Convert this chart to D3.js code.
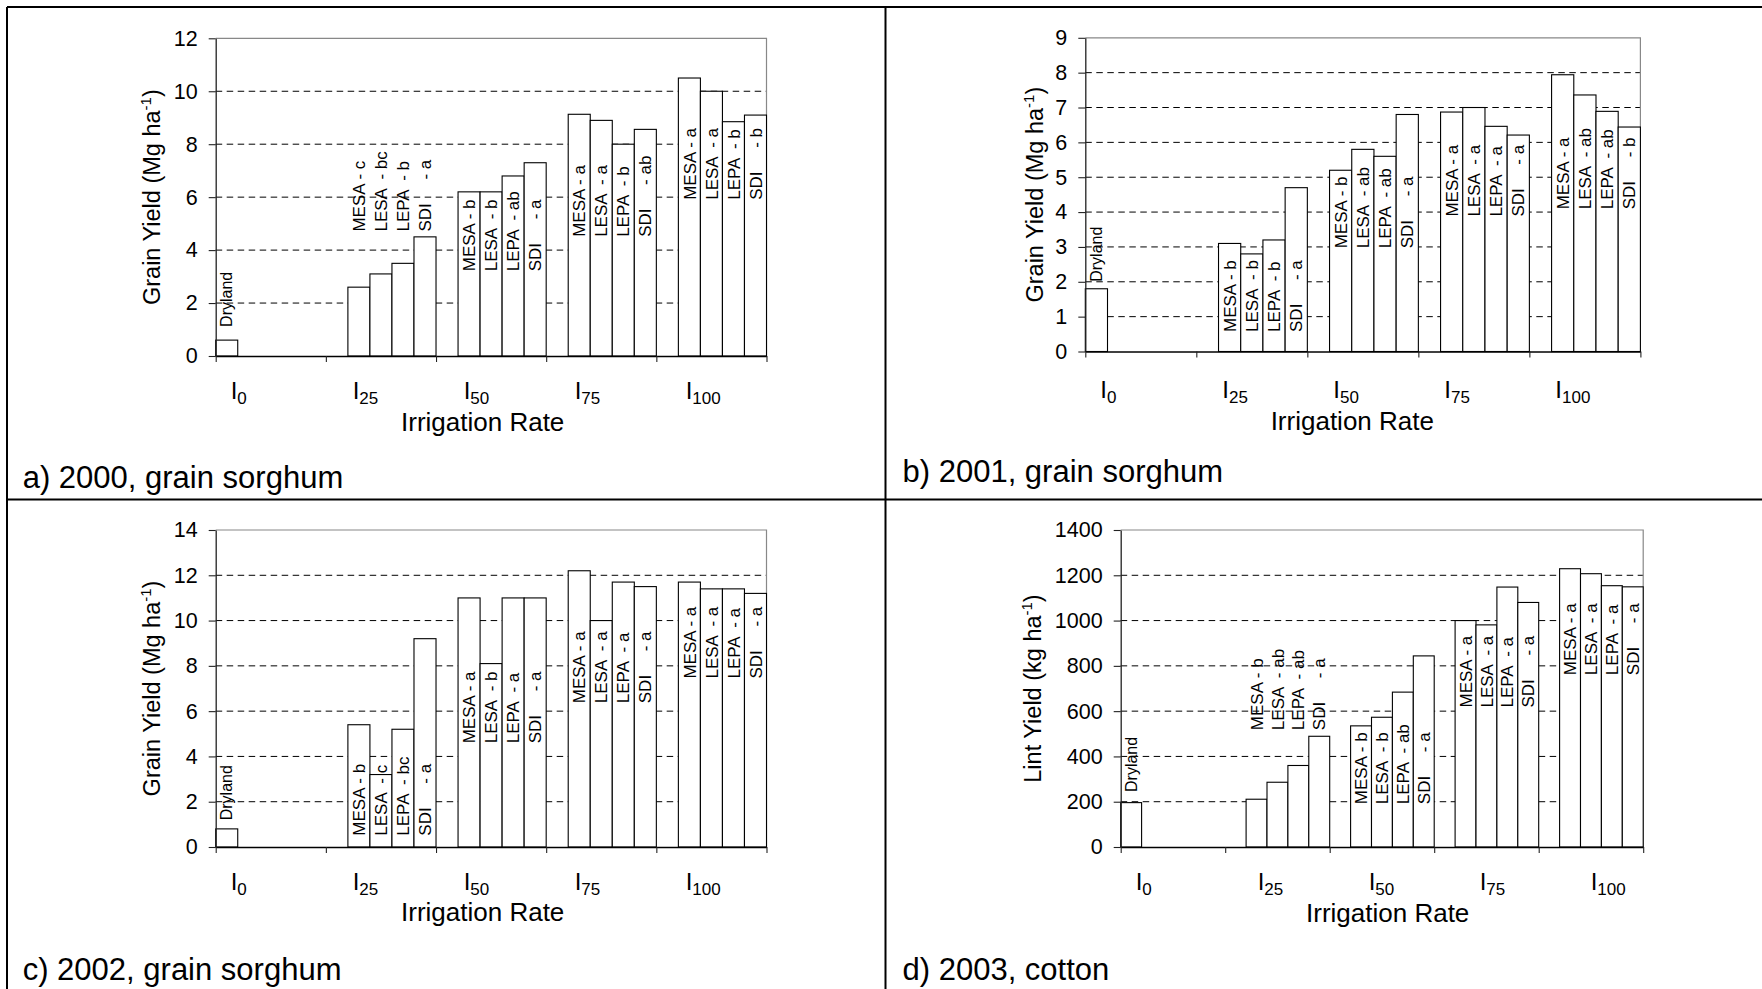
<!DOCTYPE html>
<html><head><meta charset="utf-8">
<script src="https://cdn.jsdelivr.net/npm/d3@7"></script>
<style>
html,body{margin:0;padding:0;background:#fff;}
svg{display:block;font-family:"Liberation Sans",Arial,sans-serif;}
</style></head><body>
<svg id="chart" width="1762" height="989"></svg>
<script>
// ---------- data ----------
const categories = ["I0", "I25", "I50", "I75", "I100"];
const categorySubs = ["0", "25", "50", "75", "100"];
const seriesNames = ["Dryland", "MESA", "LESA", "LEPA", "SDI"];

// a) 2000, grain sorghum (Mg/ha)
const a_Dryland = [0.6, null, null, null, null];
const a_MESA = [null, 2.6, 6.2, 9.13, 10.5];
const a_LESA = [null, 3.1, 6.2, 8.9, 10.0];
const a_LEPA = [null, 3.5, 6.8, 8.0, 8.85];
const a_SDI  = [null, 4.5, 7.3, 8.56, 9.1];
const a_sig = [["c", "bc", "b", "a"], ["b", "b", "ab", "a"], ["a", "a", "b", "ab"], ["a", "a", "b", "b"]];
const a_labelBase = [1.1, 4.7, 3.2, 4.5, 5.9];
const a_ticks = [0, 2, 4, 6, 8, 10, 12];

// b) 2001, grain sorghum (Mg/ha)
const b_Dryland = [1.8, null, null, null, null];
const b_MESA = [null, 3.1, 5.2, 6.87, 7.94];
const b_LESA = [null, 2.8, 5.8, 7.0, 7.36];
const b_LEPA = [null, 3.2, 5.6, 6.46, 6.89];
const b_SDI  = [null, 4.7, 6.8, 6.21, 6.44];
const b_sig = [["b", "b", "b", "a"], ["b", "ab", "ab", "a"], ["a", "a", "a", "a"], ["a", "ab", "ab", "b"]];
const b_labelBase = [2.0, 0.56, 2.96, 3.87, 4.08];
const b_ticks = [0, 1, 2, 3, 4, 5, 6, 7, 8, 9];

// c) 2002, grain sorghum (Mg/ha)
const c_Dryland = [0.8, null, null, null, null];
const c_MESA = [null, 5.4, 11.0, 12.2, 11.7];
const c_LESA = [null, 3.2, 8.1, 10.0, 11.4];
const c_LEPA = [null, 5.2, 11.0, 11.7, 11.4];
const c_SDI  = [null, 9.2, 11.0, 11.5, 11.2];
const c_sig = [["b", "c", "bc", "a"], ["a", "b", "a", "a"], ["a", "a", "a", "a"], ["a", "a", "a", "a"]];
const c_labelBase = [1.18, 0.5, 4.58, 6.35, 7.44];
const c_ticks = [0, 2, 4, 6, 8, 10, 12, 14];

// d) 2003, cotton (kg/ha)
const d_Dryland = [196, null, null, null, null];
const d_MESA = [null, 211, 535, 1000, 1229];
const d_LESA = [null, 286, 573, 981, 1207];
const d_LEPA = [null, 360, 684, 1148, 1154];
const d_SDI  = [null, 489, 844, 1080, 1149];
const d_sig = [["b", "ab", "ab", "a"], ["b", "b", "ab", "a"], ["a", "a", "a", "a"], ["a", "a", "a", "a"]];
const d_labelBase = [243, 516, 189, 616, 759];
const d_ticks = [0, 200, 400, 600, 800, 1000, 1200, 1400];

const labelPrefix = {MESA: "MESA - ", LESA: "LESA  - ", LEPA: "LEPA  - ", SDI: "SDI     - "};
const xTitle = "Irrigation Rate";

// ---------- layout ----------
const panels = [
  {series: [a_Dryland, a_MESA, a_LESA, a_LEPA, a_SDI], sig: a_sig, base: a_labelBase, ticks: a_ticks,
   yTitle: "Grain Yield (Mg ha", caption: "a) 2000, grain sorghum",
   left: 215.7, right: 766.5, top: 38.3, bottom: 356, yTitleX: 152, capX: 22.7, capY: 488, labY: 399, xtY: 431},
  {series: [b_Dryland, b_MESA, b_LESA, b_LEPA, b_SDI], sig: b_sig, base: b_labelBase, ticks: b_ticks,
   yTitle: "Grain Yield (Mg ha", caption: "b) 2001, grain sorghum",
   left: 1085.3, right: 1640.4, top: 37.8, bottom: 351.5, yTitleX: 1035, capX: 902.5, capY: 482, labY: 398, xtY: 430},
  {series: [c_Dryland, c_MESA, c_LESA, c_LEPA, c_SDI], sig: c_sig, base: c_labelBase, ticks: c_ticks,
   yTitle: "Grain Yield (Mg ha", caption: "c) 2002, grain sorghum",
   left: 215.7, right: 766.5, top: 530, bottom: 847, yTitleX: 152, capX: 22.7, capY: 980, labY: 890, xtY: 921},
  {series: [d_Dryland, d_MESA, d_LESA, d_LEPA, d_SDI], sig: d_sig, base: d_labelBase, ticks: d_ticks,
   yTitle: "Lint Yield (kg ha", caption: "d) 2003, cotton",
   left: 1120.7, right: 1643.2, top: 530, bottom: 847, yTitleX: 1033, capX: 902.5, capY: 980, labY: 890, xtY: 922}
];

const svg = d3.select("#chart");

// outer frame
const frame = svg.append("g").attr("stroke", "#000").attr("stroke-width", 2);
[[7, 7, 1762, 7], [7, 7, 7, 989], [885.5, 7, 885.5, 989], [7, 499.5, 1762, 499.5]].forEach(l => {
  frame.append("line").attr("x1", l[0]).attr("y1", l[1]).attr("x2", l[2]).attr("y2", l[3]);
});

panels.forEach(p => {
  const g = svg.append("g");
  const yMax = p.ticks[p.ticks.length - 1];
  const x = d3.scaleBand().domain(categories).range([p.left, p.right]).padding(0);
  const xs = d3.scaleBand().domain(seriesNames).range([0, x.bandwidth()]).padding(0);
  const y = d3.scaleLinear().domain([0, yMax]).range([p.bottom, p.top]);
  const xb = d3.scaleLinear().domain([0, categories.length]).range([p.left, p.right]);

  // gridlines
  g.append("g").selectAll("line").data(p.ticks.filter(t => t > 0 && t < yMax)).join("line")
    .attr("x1", p.left).attr("x2", p.right)
    .attr("y1", d => y(d)).attr("y2", d => y(d))
    .attr("stroke", "#000").attr("stroke-width", 1).attr("stroke-dasharray", "6.5,4.5");
  // plot border top & right (gray)
  g.append("path")
    .attr("d", `M${p.left},${y(yMax)}H${p.right}V${y(0)}`)
    .attr("fill", "none").attr("stroke", "#888").attr("stroke-width", 1.2);

  // bars
  const bars = [];
  seriesNames.forEach((s, si) => {
    p.series[si].forEach((v, ci) => {
      if (v !== null) bars.push({s: s, cat: categories[ci], v: v});
    });
  });
  g.append("g").selectAll("rect").data(bars).join("rect")
    .attr("x", d => x(d.cat) + xs(d.s))
    .attr("width", xs.bandwidth())
    .attr("y", d => y(d.v))
    .attr("height", d => y(0) - y(d.v))
    .attr("fill", "#fff").attr("stroke", "#000").attr("stroke-width", 1.1);

  // axes
  const yAxis = d3.axisLeft(y).tickValues(p.ticks).tickSize(7).tickSizeOuter(0).tickPadding(11)
    .tickFormat(d3.format("d"));
  const ya = g.append("g").attr("transform", `translate(${p.left},0)`).call(yAxis);
  ya.select(".domain").attr("stroke", "#222").attr("stroke-width", 1.3);
  ya.selectAll(".tick line").attr("stroke", "#222").attr("stroke-width", 1.1);
  ya.selectAll(".tick text").attr("font-size", 21.5).attr("fill", "#000")
    .attr("font-family", "Liberation Sans, Arial, sans-serif");

  const xAxis = d3.axisBottom(xb).tickValues(d3.range(categories.length + 1)).tickSize(6).tickSizeOuter(0)
    .tickFormat("");
  const xa = g.append("g").attr("transform", `translate(0,${p.bottom})`).call(xAxis);
  xa.select(".domain").attr("stroke", "#000").attr("stroke-width", 1.6);
  xa.selectAll(".tick line").attr("stroke", "#222").attr("stroke-width", 1.1);

  // bar annotation labels
  const labels = [];
  labels.push({text: "Dryland", cx: x(categories[0]) + xs("Dryland") + xs.bandwidth() / 2, v: p.base[0], fs: 16});
  for (let ci = 1; ci < categories.length; ci++) {
    for (let si = 1; si < seriesNames.length; si++) {
      const s = seriesNames[si];
      labels.push({
        text: labelPrefix[s] + p.sig[ci - 1][si - 1],
        cx: x(categories[ci]) + xs(s) + xs.bandwidth() / 2,
        v: p.base[ci], fs: 17
      });
    }
  }
  g.append("g").selectAll("text").data(labels).join("text")
    .attr("transform", d => `translate(${d.cx},${y(d.v)}) rotate(-90)`)
    .attr("dy", "0.36em")
    .attr("text-anchor", "start")
    .attr("font-size", d => d.fs)
    .style("white-space", "pre")
    .text(d => d.text);

  // x category labels (I with subscript)
  const lab = d3.scaleLinear().domain([1, categories.length - 1]).range([p.left + 137, p.left + 137 + 333]);
  const xl = g.append("g").selectAll("text").data(categories).join("text")
    .attr("x", (d, i) => i === 0 ? p.left + 15 : lab(i))
    .attr("y", p.labY)
    .attr("font-size", 24);
  xl.append("tspan").text("I");
  xl.append("tspan").attr("dy", 5).attr("font-size", 17).text((d, i) => categorySubs[i]);

  // x title
  g.append("text").attr("x", p.left + 267).attr("y", p.xtY).attr("text-anchor", "middle")
    .attr("font-size", 26).text(xTitle);

  // y title
  const yt = g.append("text")
    .attr("transform", `translate(${p.yTitleX},${(p.top + p.bottom) / 2}) rotate(-90)`)
    .attr("text-anchor", "middle").attr("dy", "0.36em").attr("font-size", 23.5);
  yt.append("tspan").text(p.yTitle);
  yt.append("tspan").attr("font-size", 15).attr("dy", -9).text("-1");
  yt.append("tspan").attr("dy", 9).text(")");

  // caption
  g.append("text").attr("x", p.capX).attr("y", p.capY).attr("font-size", 31).text(p.caption);
});
</script>
</body></html>
